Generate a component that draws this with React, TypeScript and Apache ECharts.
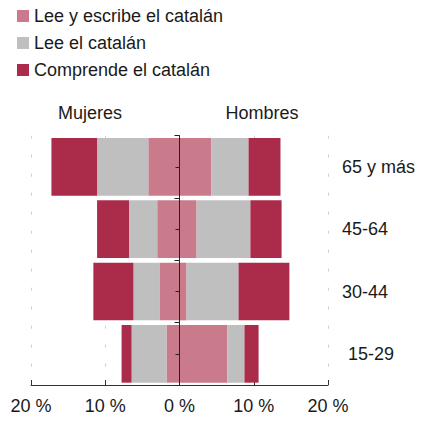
import React, { useEffect, useRef } from "react";
import * as echarts from "echarts";

const categories = ["65 y más", "45-64", "30-44", "15-29"];
const seriesNames = ["Lee y escribe el catalán", "Lee el catalán", "Comprende el catalán"];
const seriesColors = ["#c97b8b", "#bfbfbf", "#aa2c4a"];
// Mujeres (shown to the left), percentages
const mujeresLeeEscribe = [4.2, 3.0, 2.7, 1.75];
const mujeresLee = [6.9, 3.8, 3.5, 4.7];
const mujeresComprende = [6.15, 4.3, 5.4, 1.35];
// Hombres (shown to the right), percentages
const hombresLeeEscribe = [4.3, 2.3, 0.95, 6.45];
const hombresLee = [5.0, 7.25, 7.0, 2.3];
const hombresComprende = [4.3, 4.2, 6.85, 1.9];
const xTicks = [-20, -10, 0, 10, 20];

const FONT = "'Liberation Sans', Arial, sans-serif";

export default function App() {
  const ref = useRef<HTMLDivElement>(null);
  useEffect(() => {
    if (!ref.current) return;
    const chart = echarts.init(ref.current, undefined, { renderer: "svg" });
    const women = [mujeresLeeEscribe, mujeresLee, mujeresComprende];
    const men = [hombresLeeEscribe, hombresLee, hombresComprende];
    const series: any[] = [];
    for (let i = 0; i < 3; i++) {
      series.push({
        type: "bar",
        name: seriesNames[i],
        stack: "all",
        yAxisIndex: 0,
        barCategoryGap: "7.5%",
        itemStyle: { color: seriesColors[i] },
        data: women[i].map((v) => -v),
      });
      series.push({
        type: "bar",
        name: seriesNames[i],
        stack: "all",
        yAxisIndex: 0,
        barCategoryGap: "7.5%",
        itemStyle: { color: seriesColors[i] },
        data: men[i],
      });
    }
    const gridLeft = 31;
    const gridRight = 100;
    const gridWidth = 428 - gridLeft - gridRight;
    const labelData = categories.map((c, i) =>
      i === categories.length - 1 ? { value: c, textStyle: { padding: [0, 0, 0, 6] } } : c
    );
    chart.setOption({
      animation: false,
      textStyle: { fontFamily: FONT },
      legend: {
        orient: "vertical",
        left: 17,
        top: 7,
        padding: 0,
        icon: "rect",
        itemWidth: 12,
        itemHeight: 12,
        itemGap: 9,
        data: seriesNames,
        textStyle: { fontSize: 18, color: "#1a1a1a", fontFamily: FONT },
      },
      grid: { left: gridLeft, right: gridRight, top: 135.7, bottom: 39, containLabel: false },
      xAxis: {
        type: "value",
        min: xTicks[0],
        max: xTicks[xTicks.length - 1],
        interval: 10,
        axisLine: { show: true, lineStyle: { color: "#333", width: 1 } },
        axisTick: { show: true, inside: true, length: 5, lineStyle: { color: "#333" } },
        axisLabel: {
          fontSize: 18,
          color: "#1a1a1a",
          margin: 12,
          fontFamily: FONT,
          formatter: (v: number) => Math.abs(v) + " %",
        },
        splitLine: { show: true, lineStyle: { color: "#cfcfcf", type: [3, 16] } },
      },
      yAxis: [
        {
          type: "category",
          inverse: true,
          data: categories,
          position: "left",
          offset: -gridWidth / 2,
          z: 5,
          axisLine: { show: true, onZero: false, lineStyle: { color: "#222", width: 1 } },
          axisTick: { show: true, length: 5, lineStyle: { color: "#222" } },
          axisLabel: { show: false },
        },
        {
          type: "category",
          inverse: true,
          data: labelData,
          position: "right",
          axisLine: { show: false, onZero: false },
          axisTick: { show: false },
          axisLabel: {
            show: true,
            fontSize: 18,
            color: "#1a1a1a",
            margin: 14,
            fontFamily: FONT,
          },
        },
        {
          type: "category",
          inverse: true,
          data: categories,
          position: "left",
          offset: -gridWidth / 2,
          z: 5,
          axisLine: { show: false, onZero: false },
          axisTick: { show: true, alignWithLabel: true, length: 4, lineStyle: { color: "#222" } },
          axisLabel: { show: false },
        },
      ],
      graphic: [
        {
          type: "text",
          x: 90,
          y: 113,
          style: {
            text: "Mujeres",
            fontSize: 18,
            fill: "#1a1a1a",
            fontFamily: FONT,
            align: "center",
            verticalAlign: "middle",
          },
        },
        {
          type: "text",
          x: 262,
          y: 113,
          style: {
            text: "Hombres",
            fontSize: 18,
            fill: "#1a1a1a",
            fontFamily: FONT,
            align: "center",
            verticalAlign: "middle",
          },
        },
      ],
      series,
    });
    return () => chart.dispose();
  }, []);
  return <div ref={ref} style={{ width: 428, height: 424, position: "absolute", left: 0, top: 0 }} />;
}
